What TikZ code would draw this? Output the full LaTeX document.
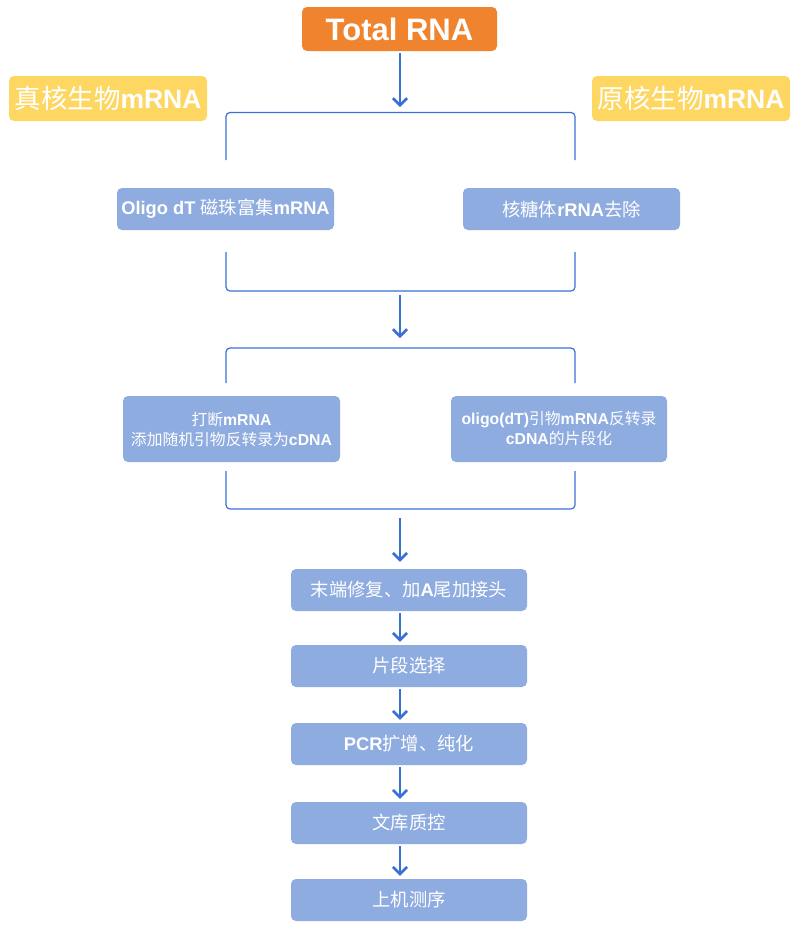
\documentclass[tikz,border=0pt]{standalone}
\usepackage{fontspec}
\setmainfont{Liberation Sans}
\newfontfamily\cjk{Noto Sans CJK SC}
\newcommand\zh[1]{{\cjk\mdseries #1}}
\usetikzlibrary{arrows.meta}
\definecolor{orng}{HTML}{F0842E}
\definecolor{yel}{HTML}{FED763}
\definecolor{bbox}{HTML}{8EACDF}
\definecolor{lnblue}{HTML}{3B6FD8}
\tikzset{
  rbox/.style={rounded corners=5pt, inner sep=0pt, align=center, text=white, font=\fontsize{18.3}{21}\selectfont\bfseries},
  stepbox/.style={rbox, fill=bbox, minimum height=42pt},
  twobox/.style={stepbox, minimum height=66pt, font=\fontsize{15.8}{20}\selectfont\bfseries},
  tagbox/.style={rbox, fill=yel, minimum height=45pt, font=\fontsize{26.5}{30}\selectfont\bfseries},
  flow/.style={draw=lnblue, line width=2.6pt, -{Straight Barb[length=7pt,width=14pt,line width=2.6pt]}},
  brak/.style={draw=lnblue, line width=1.2pt, rounded corners=4pt}
}
\begin{document}
\begin{tikzpicture}[x=1pt,y=-1pt]
\useasboundingbox (0,0) rectangle (800,927);
\fill[white] (0,0) rectangle (800,927);
% title
\node[rbox, fill=orng, minimum width=195pt, minimum height=44pt, font=\fontsize{31}{34}\selectfont\bfseries] (total) at (399.5,29) {Total RNA};
\node[tagbox, minimum width=198pt] (euk) at (108,98.5) {\zh{真核生物}mRNA};
\node[tagbox, minimum width=198pt] (pro) at (691,98.5) {\zh{原核生物}mRNA};
% coordinates
\coordinate (ax) at (400,0);
\coordinate (b1in) at (400,107);
\coordinate (b1out) at (400,295);
\coordinate (b2in) at (400,338);
\coordinate (b2out) at (400,518);
% bracket 1
\draw[brak] (226,160) -- (226,112.5) -- (575,112.5) -- (575,160);
\draw[brak] (226,252) -- (226,291) -- (575,291) -- (575,252);
\node[stepbox, minimum width=217pt] (oligo) at (225.5,209) {Oligo dT \zh{磁珠富集}mRNA};
\node[stepbox, minimum width=217pt] (ribo) at (571.5,209) {\zh{核糖体}rRNA\zh{去除}};
% bracket 2
\draw[brak] (226,383) -- (226,348) -- (575,348) -- (575,383);
\draw[brak] (226,471) -- (226,509) -- (575,509) -- (575,471);
\node[twobox, minimum width=217pt] (frag) at (231.5,429) {\zh{打断}mRNA\\\zh{添加随机引物反转录为}cDNA};
\node[twobox, minimum width=216pt] (odt) at (559,429) {oligo(dT)\zh{引物}mRNA\zh{反转录}\\cDNA\zh{的片段化}};
% chain
\node[stepbox, minimum width=236pt] (endr) at (409,590) {\zh{末端修复、加}A\zh{尾加接头}};
\node[stepbox, minimum width=236pt] (sel) at (409,666) {\zh{片段选择}};
\node[stepbox, minimum width=236pt] (pcr) at (409,744) {PCR\zh{扩增、纯化}};
\node[stepbox, minimum width=236pt] (qc) at (409,823) {\zh{文库质控}};
\node[stepbox, minimum width=236pt] (seq) at (409,900) {\zh{上机测序}};
% arrows
\draw[flow] ([yshift=-2pt]total.south -| ax) -- (b1in);
\draw[flow] (b1out) -- (b2in);
\draw[flow] (b2out) -- ([yshift=7pt]endr.north -| ax);
\draw[flow] ([yshift=-2pt]endr.south -| ax) -- ([yshift=3pt]sel.north -| ax);
\draw[flow] ([yshift=-2pt]sel.south -| ax) -- ([yshift=3pt]pcr.north -| ax);
\draw[flow] ([yshift=-2pt]pcr.south -| ax) -- ([yshift=3pt]qc.north -| ax);
\draw[flow] ([yshift=-2pt]qc.south -| ax) -- ([yshift=3pt]seq.north -| ax);
\end{tikzpicture}
\end{document}
